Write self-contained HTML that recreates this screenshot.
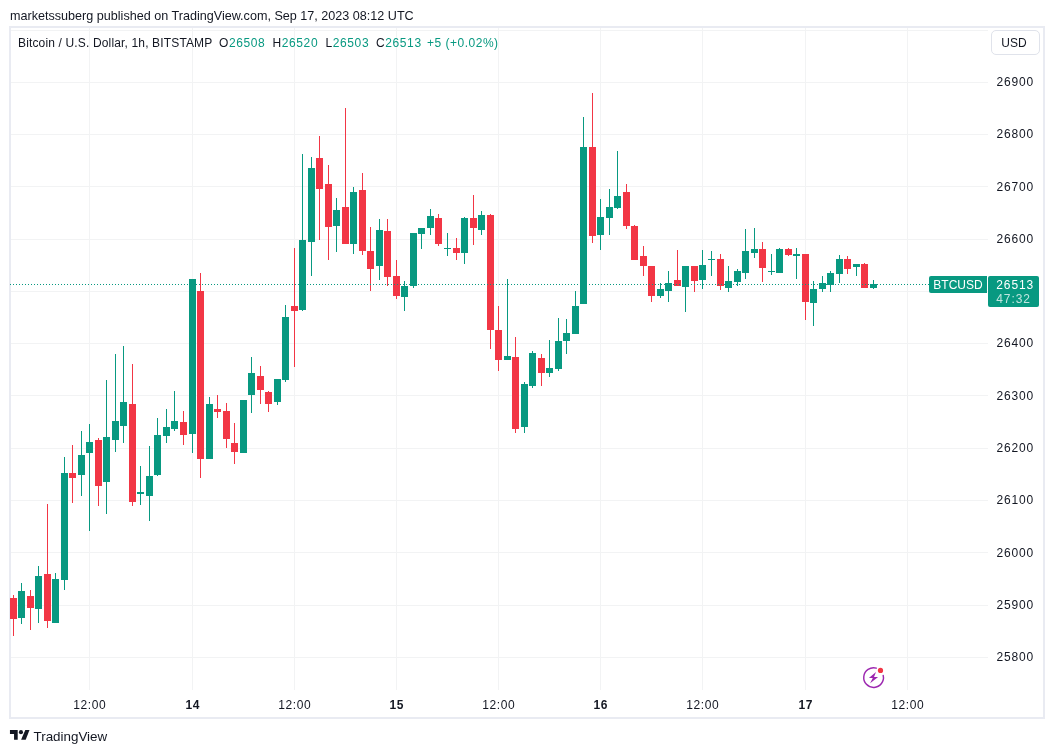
<!DOCTYPE html>
<html lang="en">
<head>
<meta charset="utf-8">
<title>BTCUSD chart</title>
<style>
html,body{margin:0;padding:0;background:#fff;}
body{width:1054px;height:753px;position:relative;overflow:hidden;font-family:"Liberation Sans",sans-serif;color:#131722;}
.hdr{position:absolute;left:10px;top:8px;font-size:12.6px;line-height:16px;white-space:nowrap;}
.frame{position:absolute;left:9px;top:26px;width:1032px;height:689px;border:2px solid #e9ebf2;box-sizing:content-box;}
svg.chart{position:absolute;left:0;top:0;}
.legend{position:absolute;left:0;top:35px;font-size:12px;line-height:16px;white-space:nowrap;}
.legend span{position:absolute;top:0;letter-spacing:0.6px;}
.legend .ttl{left:18px;letter-spacing:0.15px;}
.legend .g{color:#089981;font-weight:normal;}
.usd{position:absolute;left:991px;top:30px;width:47px;height:23px;border:1px solid #e0e3eb;border-radius:5px;font-size:12px;line-height:25px;text-align:center;background:#fff;text-indent:-3px;}
.pl{position:absolute;left:996.5px;width:40px;font-size:12px;line-height:16px;height:16px;white-space:nowrap;letter-spacing:0.85px;}
.tl{position:absolute;top:697px;width:60px;text-align:center;font-size:12px;line-height:16px;white-space:nowrap;letter-spacing:0.6px;text-indent:0.6px;}
.tl.b{font-weight:bold;}
.sym{position:absolute;left:929px;top:276px;width:58px;height:17px;background:#089981;color:#fff;font-size:12px;line-height:19px;text-align:center;border-radius:2px 0 0 2px;}
.price{position:absolute;left:988px;top:276px;width:51px;height:31px;background:#089981;color:#fff;font-size:12px;line-height:14px;border-radius:2px;box-sizing:border-box;padding:2px 0 0 8.3px;letter-spacing:0.9px;}
.price .t{color:rgba(255,255,255,0.75);display:block;}
.tv{position:absolute;left:33.5px;top:728.5px;font-size:13.4px;line-height:16px;white-space:nowrap;}
</style>
</head>
<body>
<div class="hdr">marketssuberg published on TradingView.com, Sep 17, 2023 08:12 UTC</div>
<div class="frame"></div>
<svg class="chart" width="1054" height="753" viewBox="0 0 1054 753" shape-rendering="crispEdges">
<rect x="11" y="30" width="977" height="1" fill="#f2f3f4"/>
<rect x="11" y="82" width="977" height="1" fill="#f2f3f4"/>
<rect x="11" y="134" width="977" height="1" fill="#f2f3f4"/>
<rect x="11" y="186" width="977" height="1" fill="#f2f3f4"/>
<rect x="11" y="239" width="977" height="1" fill="#f2f3f4"/>
<rect x="11" y="291" width="977" height="1" fill="#f2f3f4"/>
<rect x="11" y="343" width="977" height="1" fill="#f2f3f4"/>
<rect x="11" y="395" width="977" height="1" fill="#f2f3f4"/>
<rect x="11" y="448" width="977" height="1" fill="#f2f3f4"/>
<rect x="11" y="500" width="977" height="1" fill="#f2f3f4"/>
<rect x="11" y="552" width="977" height="1" fill="#f2f3f4"/>
<rect x="11" y="605" width="977" height="1" fill="#f2f3f4"/>
<rect x="11" y="657" width="977" height="1" fill="#f2f3f4"/>
<rect x="89" y="28" width="1" height="662" fill="#f2f3f4"/>
<rect x="192" y="28" width="1" height="662" fill="#f2f3f4"/>
<rect x="294" y="28" width="1" height="662" fill="#f2f3f4"/>
<rect x="396" y="28" width="1" height="662" fill="#f2f3f4"/>
<rect x="498" y="28" width="1" height="662" fill="#f2f3f4"/>
<rect x="600" y="28" width="1" height="662" fill="#f2f3f4"/>
<rect x="702" y="28" width="1" height="662" fill="#f2f3f4"/>
<rect x="805" y="28" width="1" height="662" fill="#f2f3f4"/>
<rect x="907" y="28" width="1" height="662" fill="#f2f3f4"/>
<rect x="13" y="595" width="1" height="41" fill="#f23645"/>
<rect x="10" y="598" width="7" height="21" fill="#f23645"/>
<rect x="21" y="583" width="1" height="41" fill="#089981"/>
<rect x="18" y="591" width="7" height="27" fill="#089981"/>
<rect x="30" y="590" width="1" height="40" fill="#f23645"/>
<rect x="27" y="596" width="7" height="12" fill="#f23645"/>
<rect x="38" y="566" width="1" height="57" fill="#089981"/>
<rect x="35" y="576" width="7" height="33" fill="#089981"/>
<rect x="47" y="504" width="1" height="124" fill="#f23645"/>
<rect x="44" y="574" width="7" height="47" fill="#f23645"/>
<rect x="55" y="573" width="1" height="50" fill="#089981"/>
<rect x="52" y="579" width="7" height="44" fill="#089981"/>
<rect x="64" y="457" width="1" height="133" fill="#089981"/>
<rect x="61" y="473" width="7" height="107" fill="#089981"/>
<rect x="72" y="445" width="1" height="58" fill="#f23645"/>
<rect x="69" y="473" width="7" height="5" fill="#f23645"/>
<rect x="81" y="431" width="1" height="65" fill="#089981"/>
<rect x="78" y="455" width="7" height="20" fill="#089981"/>
<rect x="89" y="424" width="1" height="107" fill="#089981"/>
<rect x="86" y="442" width="7" height="11" fill="#089981"/>
<rect x="98" y="438" width="1" height="68" fill="#f23645"/>
<rect x="95" y="440" width="7" height="46" fill="#f23645"/>
<rect x="106" y="380" width="1" height="134" fill="#089981"/>
<rect x="103" y="437" width="7" height="45" fill="#089981"/>
<rect x="115" y="354" width="1" height="98" fill="#089981"/>
<rect x="112" y="421" width="7" height="19" fill="#089981"/>
<rect x="123" y="346" width="1" height="97" fill="#089981"/>
<rect x="120" y="402" width="7" height="24" fill="#089981"/>
<rect x="132" y="364" width="1" height="142" fill="#f23645"/>
<rect x="129" y="404" width="7" height="98" fill="#f23645"/>
<rect x="140" y="466" width="1" height="39" fill="#089981"/>
<rect x="137" y="492" width="7" height="2" fill="#089981"/>
<rect x="149" y="446" width="1" height="75" fill="#089981"/>
<rect x="146" y="476" width="7" height="20" fill="#089981"/>
<rect x="157" y="418" width="1" height="58" fill="#089981"/>
<rect x="154" y="435" width="7" height="40" fill="#089981"/>
<rect x="166" y="409" width="1" height="34" fill="#089981"/>
<rect x="163" y="427" width="7" height="9" fill="#089981"/>
<rect x="174" y="391" width="1" height="40" fill="#089981"/>
<rect x="171" y="421" width="7" height="8" fill="#089981"/>
<rect x="183" y="411" width="1" height="34" fill="#f23645"/>
<rect x="180" y="422" width="7" height="13" fill="#f23645"/>
<rect x="192" y="279" width="1" height="174" fill="#089981"/>
<rect x="189" y="279" width="7" height="155" fill="#089981"/>
<rect x="200" y="273" width="1" height="205" fill="#f23645"/>
<rect x="197" y="291" width="7" height="168" fill="#f23645"/>
<rect x="209" y="397" width="1" height="62" fill="#089981"/>
<rect x="206" y="404" width="7" height="55" fill="#089981"/>
<rect x="217" y="395" width="1" height="23" fill="#f23645"/>
<rect x="214" y="409" width="7" height="3" fill="#f23645"/>
<rect x="226" y="403" width="1" height="45" fill="#f23645"/>
<rect x="223" y="411" width="7" height="28" fill="#f23645"/>
<rect x="234" y="423" width="1" height="41" fill="#f23645"/>
<rect x="231" y="443" width="7" height="9" fill="#f23645"/>
<rect x="243" y="400" width="1" height="53" fill="#089981"/>
<rect x="240" y="400" width="7" height="53" fill="#089981"/>
<rect x="251" y="357" width="1" height="56" fill="#089981"/>
<rect x="248" y="373" width="7" height="22" fill="#089981"/>
<rect x="260" y="366" width="1" height="38" fill="#f23645"/>
<rect x="257" y="376" width="7" height="14" fill="#f23645"/>
<rect x="268" y="391" width="1" height="21" fill="#f23645"/>
<rect x="265" y="392" width="7" height="12" fill="#f23645"/>
<rect x="277" y="379" width="1" height="26" fill="#089981"/>
<rect x="274" y="379" width="7" height="23" fill="#089981"/>
<rect x="285" y="305" width="1" height="77" fill="#089981"/>
<rect x="282" y="317" width="7" height="63" fill="#089981"/>
<rect x="294" y="248" width="1" height="119" fill="#f23645"/>
<rect x="291" y="306" width="7" height="5" fill="#f23645"/>
<rect x="302" y="154" width="1" height="157" fill="#089981"/>
<rect x="299" y="240" width="7" height="70" fill="#089981"/>
<rect x="311" y="157" width="1" height="119" fill="#089981"/>
<rect x="308" y="168" width="7" height="74" fill="#089981"/>
<rect x="319" y="136" width="1" height="104" fill="#f23645"/>
<rect x="316" y="158" width="7" height="31" fill="#f23645"/>
<rect x="328" y="165" width="1" height="95" fill="#f23645"/>
<rect x="325" y="184" width="7" height="43" fill="#f23645"/>
<rect x="336" y="198" width="1" height="54" fill="#089981"/>
<rect x="333" y="210" width="7" height="16" fill="#089981"/>
<rect x="345" y="108" width="1" height="136" fill="#f23645"/>
<rect x="342" y="207" width="7" height="37" fill="#f23645"/>
<rect x="353" y="187" width="1" height="67" fill="#089981"/>
<rect x="350" y="192" width="7" height="52" fill="#089981"/>
<rect x="362" y="173" width="1" height="82" fill="#f23645"/>
<rect x="359" y="190" width="7" height="61" fill="#f23645"/>
<rect x="370" y="227" width="1" height="64" fill="#f23645"/>
<rect x="367" y="251" width="7" height="18" fill="#f23645"/>
<rect x="379" y="219" width="1" height="61" fill="#089981"/>
<rect x="376" y="230" width="7" height="36" fill="#089981"/>
<rect x="387" y="219" width="1" height="67" fill="#f23645"/>
<rect x="384" y="231" width="7" height="46" fill="#f23645"/>
<rect x="396" y="260" width="1" height="39" fill="#f23645"/>
<rect x="393" y="276" width="7" height="20" fill="#f23645"/>
<rect x="404" y="281" width="1" height="30" fill="#089981"/>
<rect x="401" y="286" width="7" height="11" fill="#089981"/>
<rect x="413" y="233" width="1" height="55" fill="#089981"/>
<rect x="410" y="233" width="7" height="53" fill="#089981"/>
<rect x="421" y="228" width="1" height="21" fill="#089981"/>
<rect x="418" y="228" width="7" height="6" fill="#089981"/>
<rect x="430" y="209" width="1" height="26" fill="#089981"/>
<rect x="427" y="216" width="7" height="12" fill="#089981"/>
<rect x="438" y="214" width="1" height="32" fill="#f23645"/>
<rect x="435" y="218" width="7" height="26" fill="#f23645"/>
<rect x="447" y="233" width="1" height="23" fill="#089981"/>
<rect x="444" y="248" width="7" height="1" fill="#089981"/>
<rect x="456" y="238" width="1" height="22" fill="#f23645"/>
<rect x="453" y="248" width="7" height="5" fill="#f23645"/>
<rect x="464" y="217" width="1" height="47" fill="#089981"/>
<rect x="461" y="218" width="7" height="35" fill="#089981"/>
<rect x="473" y="195" width="1" height="50" fill="#f23645"/>
<rect x="470" y="218" width="7" height="10" fill="#f23645"/>
<rect x="481" y="211" width="1" height="24" fill="#089981"/>
<rect x="478" y="215" width="7" height="15" fill="#089981"/>
<rect x="490" y="214" width="1" height="135" fill="#f23645"/>
<rect x="487" y="215" width="7" height="115" fill="#f23645"/>
<rect x="498" y="306" width="1" height="65" fill="#f23645"/>
<rect x="495" y="330" width="7" height="30" fill="#f23645"/>
<rect x="507" y="279" width="1" height="81" fill="#089981"/>
<rect x="504" y="356" width="7" height="4" fill="#089981"/>
<rect x="515" y="337" width="1" height="96" fill="#f23645"/>
<rect x="512" y="357" width="7" height="72" fill="#f23645"/>
<rect x="524" y="382" width="1" height="51" fill="#089981"/>
<rect x="521" y="384" width="7" height="43" fill="#089981"/>
<rect x="532" y="351" width="1" height="37" fill="#089981"/>
<rect x="529" y="353" width="7" height="33" fill="#089981"/>
<rect x="541" y="354" width="1" height="32" fill="#f23645"/>
<rect x="538" y="358" width="7" height="15" fill="#f23645"/>
<rect x="549" y="340" width="1" height="37" fill="#089981"/>
<rect x="546" y="368" width="7" height="5" fill="#089981"/>
<rect x="558" y="318" width="1" height="53" fill="#089981"/>
<rect x="555" y="341" width="7" height="28" fill="#089981"/>
<rect x="566" y="319" width="1" height="35" fill="#089981"/>
<rect x="563" y="333" width="7" height="8" fill="#089981"/>
<rect x="575" y="291" width="1" height="43" fill="#089981"/>
<rect x="572" y="306" width="7" height="28" fill="#089981"/>
<rect x="583" y="117" width="1" height="187" fill="#089981"/>
<rect x="580" y="147" width="7" height="157" fill="#089981"/>
<rect x="592" y="93" width="1" height="150" fill="#f23645"/>
<rect x="589" y="147" width="7" height="89" fill="#f23645"/>
<rect x="600" y="199" width="1" height="51" fill="#089981"/>
<rect x="597" y="217" width="7" height="18" fill="#089981"/>
<rect x="609" y="189" width="1" height="46" fill="#089981"/>
<rect x="606" y="207" width="7" height="11" fill="#089981"/>
<rect x="617" y="151" width="1" height="58" fill="#089981"/>
<rect x="614" y="196" width="7" height="12" fill="#089981"/>
<rect x="626" y="184" width="1" height="45" fill="#f23645"/>
<rect x="623" y="192" width="7" height="34" fill="#f23645"/>
<rect x="634" y="225" width="1" height="35" fill="#f23645"/>
<rect x="631" y="226" width="7" height="34" fill="#f23645"/>
<rect x="643" y="246" width="1" height="30" fill="#f23645"/>
<rect x="640" y="256" width="7" height="10" fill="#f23645"/>
<rect x="651" y="266" width="1" height="36" fill="#f23645"/>
<rect x="648" y="266" width="7" height="30" fill="#f23645"/>
<rect x="660" y="283" width="1" height="15" fill="#089981"/>
<rect x="657" y="289" width="7" height="7" fill="#089981"/>
<rect x="668" y="271" width="1" height="31" fill="#089981"/>
<rect x="665" y="283" width="7" height="8" fill="#089981"/>
<rect x="677" y="250" width="1" height="36" fill="#f23645"/>
<rect x="674" y="280" width="7" height="6" fill="#f23645"/>
<rect x="685" y="266" width="1" height="46" fill="#089981"/>
<rect x="682" y="266" width="7" height="21" fill="#089981"/>
<rect x="694" y="266" width="1" height="26" fill="#f23645"/>
<rect x="691" y="266" width="7" height="15" fill="#f23645"/>
<rect x="702" y="250" width="1" height="39" fill="#089981"/>
<rect x="699" y="265" width="7" height="15" fill="#089981"/>
<rect x="711" y="251" width="1" height="25" fill="#089981"/>
<rect x="708" y="259" width="7" height="1" fill="#089981"/>
<rect x="720" y="254" width="1" height="36" fill="#f23645"/>
<rect x="717" y="259" width="7" height="27" fill="#f23645"/>
<rect x="728" y="266" width="1" height="26" fill="#089981"/>
<rect x="725" y="281" width="7" height="7" fill="#089981"/>
<rect x="737" y="269" width="1" height="17" fill="#089981"/>
<rect x="734" y="271" width="7" height="11" fill="#089981"/>
<rect x="745" y="229" width="1" height="50" fill="#089981"/>
<rect x="742" y="251" width="7" height="22" fill="#089981"/>
<rect x="754" y="228" width="1" height="30" fill="#089981"/>
<rect x="751" y="249" width="7" height="4" fill="#089981"/>
<rect x="762" y="242" width="1" height="40" fill="#f23645"/>
<rect x="759" y="249" width="7" height="19" fill="#f23645"/>
<rect x="771" y="254" width="1" height="21" fill="#089981"/>
<rect x="768" y="271" width="7" height="1" fill="#089981"/>
<rect x="779" y="248" width="1" height="25" fill="#089981"/>
<rect x="776" y="249" width="7" height="24" fill="#089981"/>
<rect x="788" y="248" width="1" height="8" fill="#f23645"/>
<rect x="785" y="249" width="7" height="6" fill="#f23645"/>
<rect x="796" y="248" width="1" height="31" fill="#089981"/>
<rect x="793" y="254" width="7" height="2" fill="#089981"/>
<rect x="805" y="254" width="1" height="66" fill="#f23645"/>
<rect x="802" y="254" width="7" height="48" fill="#f23645"/>
<rect x="813" y="281" width="1" height="45" fill="#089981"/>
<rect x="810" y="289" width="7" height="14" fill="#089981"/>
<rect x="822" y="276" width="1" height="16" fill="#089981"/>
<rect x="819" y="283" width="7" height="6" fill="#089981"/>
<rect x="830" y="271" width="1" height="21" fill="#089981"/>
<rect x="827" y="273" width="7" height="12" fill="#089981"/>
<rect x="839" y="255" width="1" height="28" fill="#089981"/>
<rect x="836" y="259" width="7" height="15" fill="#089981"/>
<rect x="847" y="256" width="1" height="18" fill="#f23645"/>
<rect x="844" y="259" width="7" height="10" fill="#f23645"/>
<rect x="856" y="264" width="1" height="12" fill="#089981"/>
<rect x="853" y="264" width="7" height="3" fill="#089981"/>
<rect x="864" y="263" width="1" height="25" fill="#f23645"/>
<rect x="861" y="264" width="7" height="24" fill="#f23645"/>
<rect x="873" y="280" width="1" height="9" fill="#089981"/>
<rect x="870" y="284" width="7" height="4" fill="#089981"/>
<line x1="10" y1="284.5" x2="929" y2="284.5" stroke="#089981" stroke-width="1" stroke-dasharray="1 2"/>
</svg>
<svg class="chart" width="1054" height="753" viewBox="0 0 1054 753">
<g fill="none" stroke="#9c27b0" stroke-width="1.45" stroke-linecap="round">
<path d="M 876.3 668.1 A 9.85 9.85 0 1 0 883.2 675.4"/>
</g>
<path d="M876 672.1 L868.9 678.1 L872.8 678.1 L870.1 683.2 L878.1 677 L874 677 Z" fill="#9c27b0"/>
<circle cx="880.5" cy="670.4" r="2.6" fill="#f23645"/>
<g fill="#131722">
<path d="M9.95 730.05 H17.7 V739.75 H14.05 V733.9 H9.95 Z"/>
<circle cx="20.95" cy="732.15" r="2.05"/>
<path d="M25.3 730.05 H29.5 L25.7 739.75 H21.1 Z"/>
</g>
</svg>
<div class="legend"><span class="ttl">Bitcoin / U.S. Dollar, 1h, BITSTAMP</span><span style="left:219px">O<b class="g">26508</b></span><span style="left:272.5px">H<b class="g">26520</b></span><span style="left:325.5px">L<b class="g">26503</b></span><span style="left:376px">C<b class="g">26513</b></span><span class="g" style="left:427px;letter-spacing:0.5px">+5 (+0.02%)</span></div>
<div class="usd">USD</div>
<div class="pl" style="top:74px">26900</div>
<div class="pl" style="top:126px">26800</div>
<div class="pl" style="top:179px">26700</div>
<div class="pl" style="top:231px">26600</div>
<div class="pl" style="top:335px">26400</div>
<div class="pl" style="top:388px">26300</div>
<div class="pl" style="top:440px">26200</div>
<div class="pl" style="top:492px">26100</div>
<div class="pl" style="top:545px">26000</div>
<div class="pl" style="top:597px">25900</div>
<div class="pl" style="top:649px">25800</div>
<div class="tl" style="left:59.5px">12:00</div>
<div class="tl b" style="left:162.5px">14</div>
<div class="tl" style="left:264.5px">12:00</div>
<div class="tl b" style="left:366.5px">15</div>
<div class="tl" style="left:468.5px">12:00</div>
<div class="tl b" style="left:570.5px">16</div>
<div class="tl" style="left:672.5px">12:00</div>
<div class="tl b" style="left:775.5px">17</div>
<div class="tl" style="left:877.5px">12:00</div>
<div class="sym">BTCUSD</div>
<div class="price">26513<span class="t">47:32</span></div>
<div class="tv">TradingView</div>
</body>
</html>
